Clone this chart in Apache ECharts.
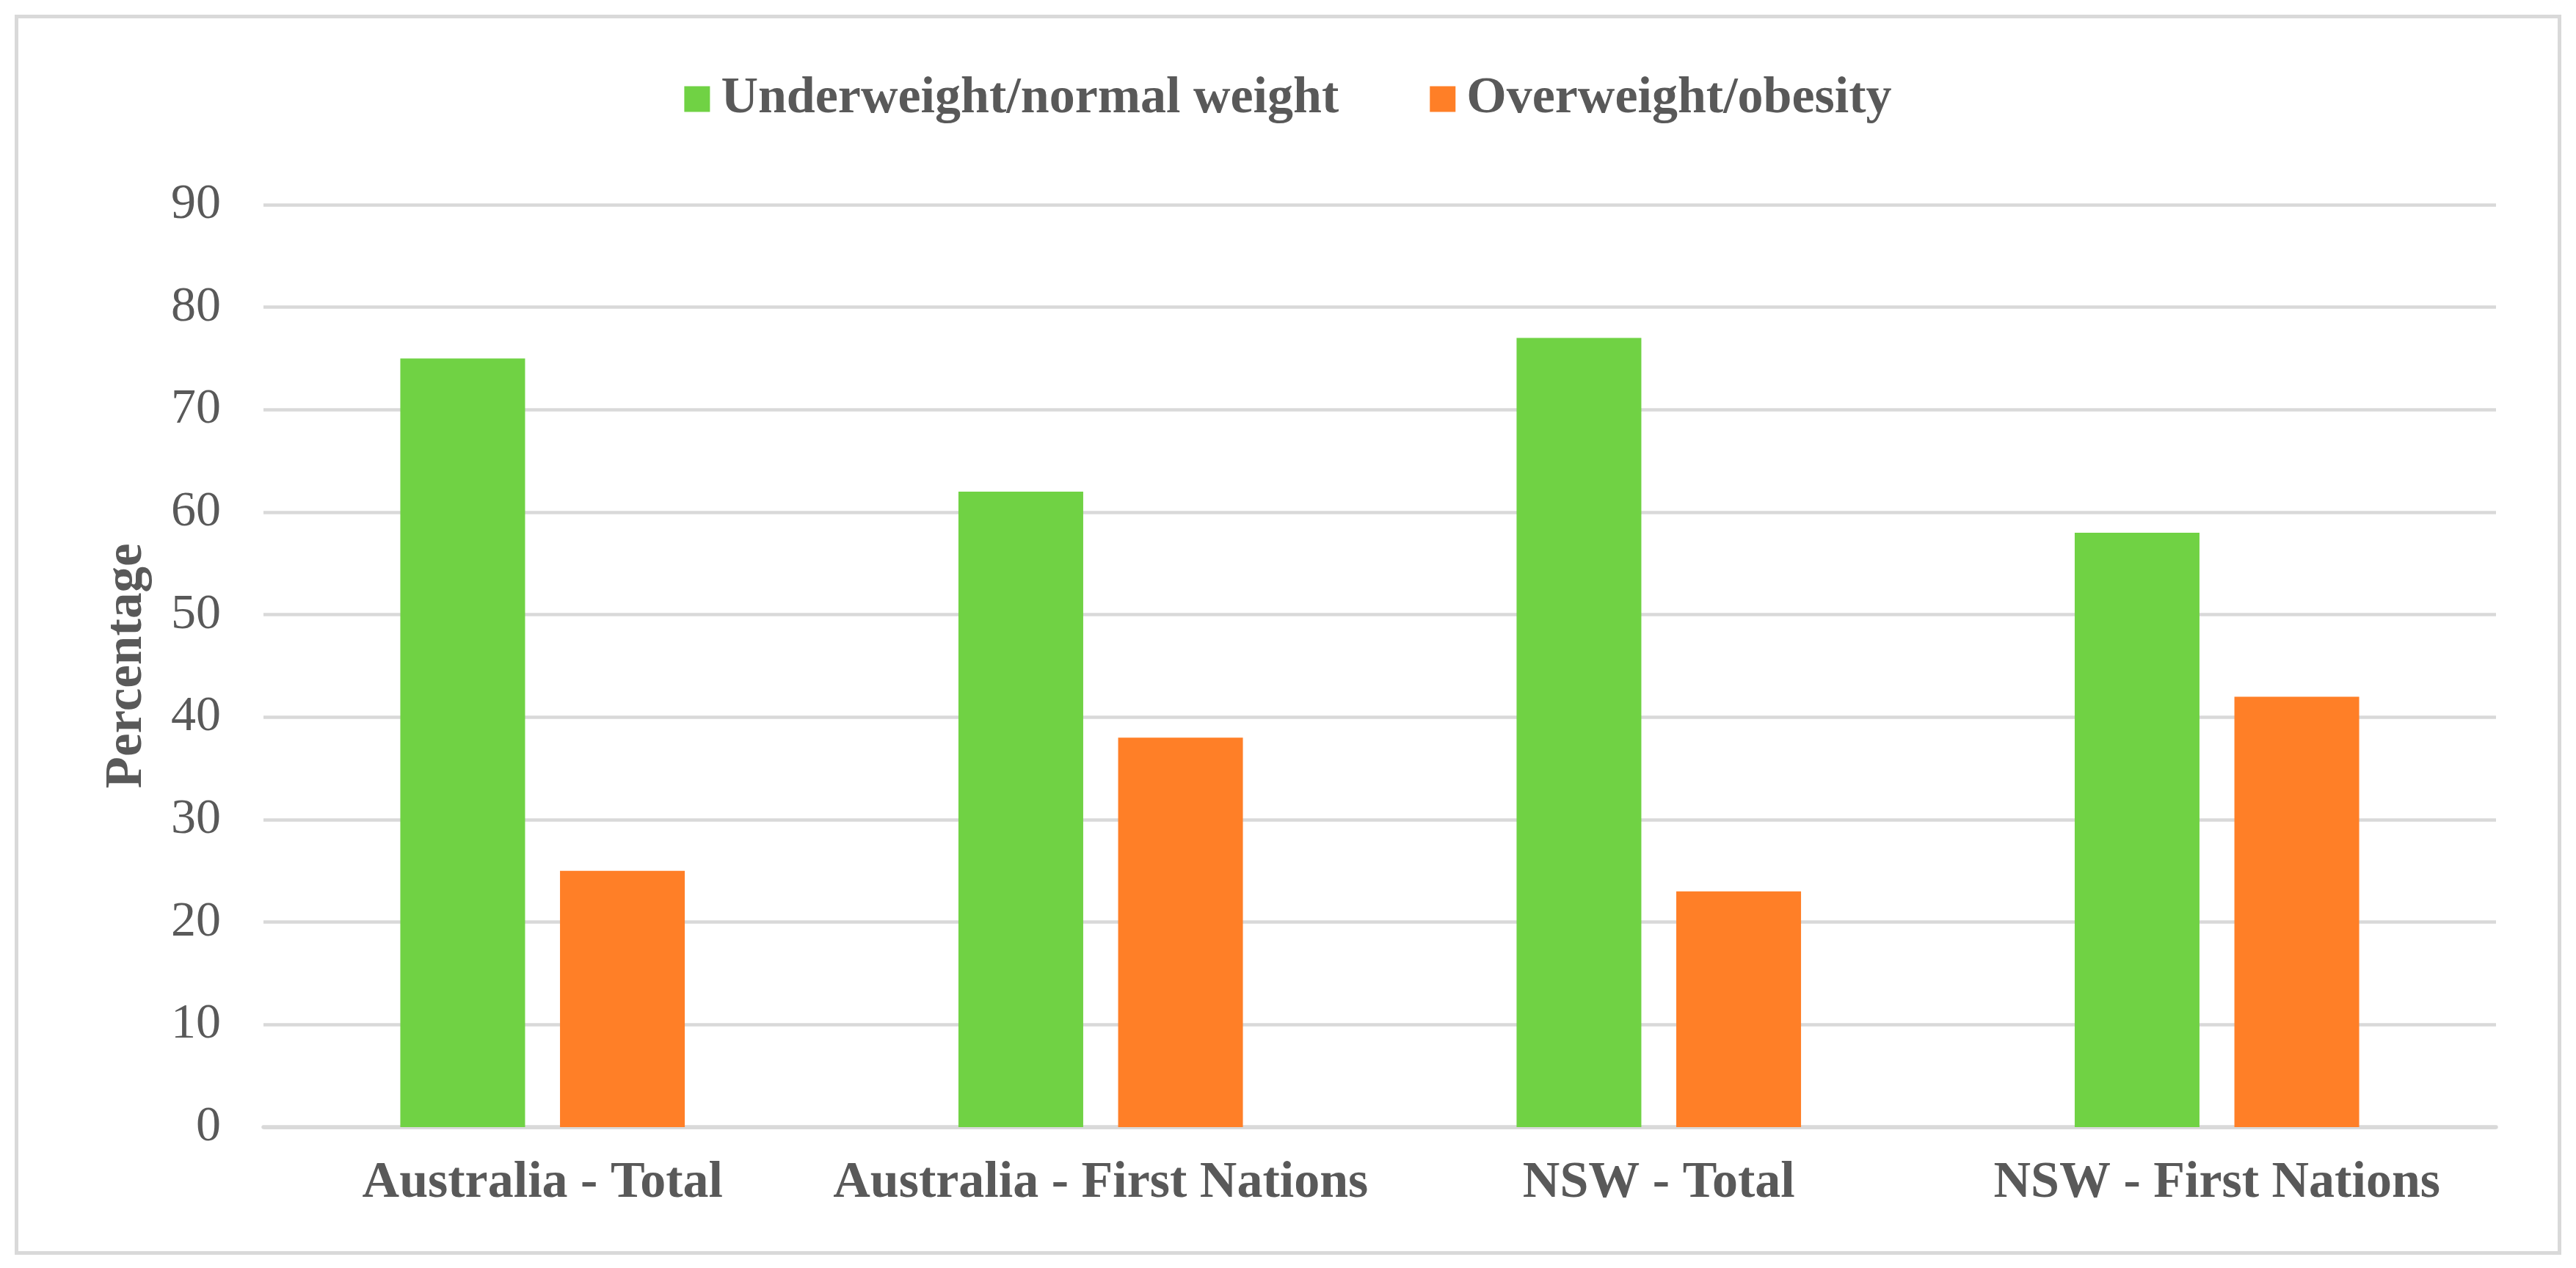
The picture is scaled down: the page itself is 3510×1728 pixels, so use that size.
<!DOCTYPE html>
<html>
<head>
<meta charset="utf-8">
<script src="https://cdn.jsdelivr.net/npm/echarts@6/dist/echarts.min.js"></script>
<style>
html,body{margin:0;padding:0;background:#fff;}
#chart{width:3510px;height:1728px;}
</style>
</head>
<body>
<div id="chart"></div>
<script>
const categories = ["Australia - Total", "Australia - First Nations", "NSW - Total", "NSW - First Nations"];
const seriesNames = ["Underweight/normal weight", "Overweight/obesity"];
const underweightNormal = [75, 62, 77, 58];
const overweightObesity = [25, 38, 23, 42];
const yTicks = [0, 10, 20, 30, 40, 50, 60, 70, 80, 90];

const FONT = '"Liberation Serif", "Times New Roman", serif';
const TXT = '#595959';
const GRID = '#d9d9d9';

const chart = echarts.init(document.getElementById('chart'), null, {renderer: 'canvas'});
chart.setOption({
  animation: false,
  backgroundColor: '#ffffff',
  graphic: [{
    type: 'rect',
    left: 20, top: 20,
    shape: {x: 0, y: 0, width: 3465, height: 1685},
    style: {fill: null, stroke: GRID, lineWidth: 5}
  }],
  legend: {
    top: 95,
    left: 'center',
    itemWidth: 35,
    itemHeight: 35,
    itemGap: 124,
    icon: 'rect',
    textStyle: {fontFamily: FONT, fontSize: 70, fontWeight: 'bold', color: TXT, padding: [0, 0, 0, 10]},
    data: seriesNames
  },
  grid: {left: 359, right: 109, top: 279, bottom: 192},
  xAxis: {
    type: 'category',
    data: categories,
    axisTick: {show: false},
    axisLine: {show: true, lineStyle: {color: GRID, width: 5.5}},
    axisLabel: {fontFamily: FONT, fontSize: 70, fontWeight: 'bold', color: TXT, margin: 42, interval: 0}
  },
  yAxis: {
    type: 'value',
    min: yTicks[0],
    max: yTicks[yTicks.length - 1],
    interval: 10,
    name: 'Percentage',
    nameLocation: 'middle',
    nameGap: 150,
    nameTextStyle: {fontFamily: FONT, fontSize: 71, fontWeight: 'bold', color: TXT},
    axisLine: {show: false},
    axisTick: {show: false},
    splitLine: {show: true, lineStyle: {color: GRID, width: 4.5}},
    axisLabel: {fontFamily: FONT, fontSize: 68, color: TXT, margin: 58}
  },
  series: [
    {
      name: seriesNames[0], type: 'bar', data: underweightNormal,
      barWidth: 170, barGap: '28%',
      itemStyle: {color: '#70d244'}
    },
    {
      name: seriesNames[1], type: 'bar', data: overweightObesity,
      barWidth: 170, barGap: '28%',
      itemStyle: {color: '#ff7f27'}
    }
  ]
});
</script>
</body>
</html>
